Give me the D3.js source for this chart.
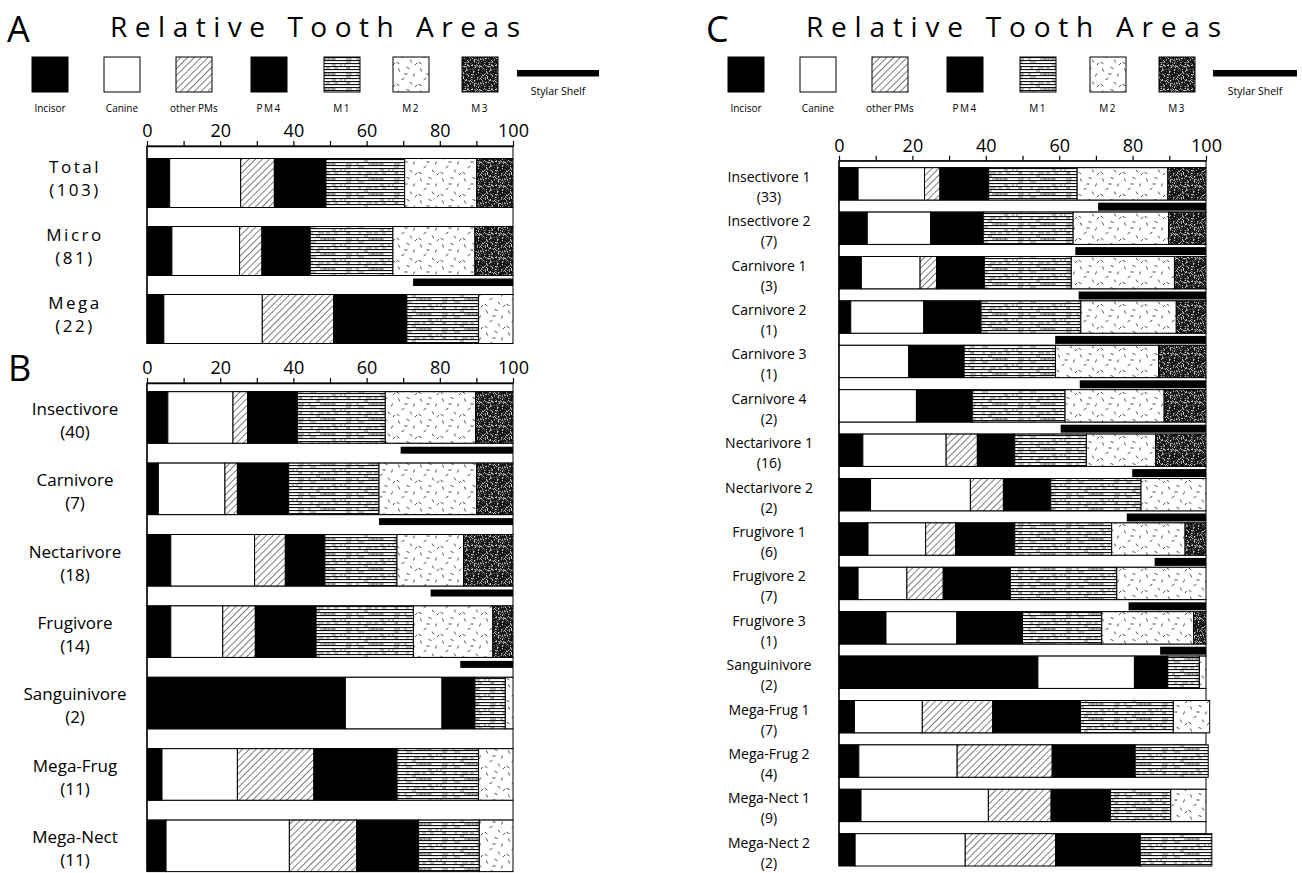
<!DOCTYPE html>
<html>
<head>
<meta charset="utf-8">
<script src="https://cdn.jsdelivr.net/npm/d3@7"></script>
<style>
  body { margin: 0; background: #fff; }
  svg { display: block; }
  text { font-family: "Open Sans", "DejaVu Sans", sans-serif; fill: #000; }
</style>
</head>
<body>
<svg id="chart" width="1302" height="873"></svg>
<script>
// ---- tooth categories (stack order, left to right) ----
const toothTypes = ["Incisor", "Canine", "other PMs", "PM4", "M1", "M2", "M3"];
const axisTicks = [0, 10, 20, 30, 40, 50, 60, 70, 80, 90, 100];

// ---- A: pooled groups (percent of total tooth area) ----
const groupsA = ["Total", "Micro", "Mega"];
const countsA = [103, 81, 22];
const valuesA = [
  [6.2, 19.4, 9.2, 14.1, 21.5, 19.7, 9.9],
  [6.8, 18.5, 6.1, 13.2, 22.6, 22.4, 10.4],
  [4.6, 26.9, 19.5, 20.0, 19.6, 9.4, 0]
];
const shelfA = [0, 27.3, 0];

// ---- B: dietary guilds ----
const groupsB = ["Insectivore", "Carnivore", "Nectarivore", "Frugivore", "Sanguinivore", "Mega-Frug", "Mega-Nect"];
const countsB = [40, 7, 18, 14, 2, 11, 11];
const valuesB = [
  [5.7, 17.8, 4.0, 13.6, 24.0, 24.7, 10.2],
  [3.1, 18.2, 3.4, 14.0, 24.7, 26.7, 9.9],
  [6.5, 22.9, 8.4, 10.8, 19.7, 18.2, 13.5],
  [6.5, 14.2, 8.9, 16.6, 26.6, 21.7, 5.5],
  [54.2, 26.4, 0, 9.0, 8.3, 2.1, 0],
  [4.1, 20.6, 20.9, 22.7, 22.3, 9.4, 0],
  [5.2, 33.7, 18.4, 16.9, 16.6, 9.2, 0]
];
const shelfB = [30.7, 36.6, 22.5, 14.4, 0, 0, 0];

// ---- C: dietary sub-groups ----
const groupsC = ["Insectivore 1", "Insectivore 2", "Carnivore 1", "Carnivore 2", "Carnivore 3", "Carnivore 4",
  "Nectarivore 1", "Nectarivore 2", "Frugivore 1", "Frugivore 2", "Frugivore 3", "Sanguinivore",
  "Mega-Frug 1", "Mega-Frug 2", "Mega-Nect 1", "Mega-Nect 2"];
const countsC = [33, 7, 3, 1, 1, 2, 16, 2, 6, 7, 1, 2, 7, 4, 9, 2];
const valuesC = [
  [5.2, 18.1, 4.2, 13.3, 24.1, 24.7, 10.4],
  [7.7, 17.3, 0, 14.3, 24.5, 26.0, 10.2],
  [6.1, 16.0, 4.5, 13.0, 23.7, 28.1, 8.6],
  [3.2, 19.9, 0, 15.6, 27.2, 26.0, 8.1],
  [0, 19.0, 0, 15.1, 24.9, 28.1, 12.9],
  [0, 21.1, 0, 15.2, 25.3, 27.0, 11.4],
  [6.5, 22.7, 8.5, 10.2, 19.5, 18.9, 13.7],
  [8.6, 27.2, 9.0, 12.9, 24.6, 17.7, 0],
  [7.9, 15.7, 8.2, 16.1, 26.4, 20.0, 5.7],
  [5.2, 13.3, 9.9, 18.3, 29.0, 24.3, 0],
  [12.8, 19.3, 0, 17.9, 21.6, 25.0, 3.4],
  [54.2, 26.3, 0, 9.1, 8.6, 1.8, 0],
  [4.2, 18.5, 19.2, 23.9, 25.3, 9.9, 0],
  [5.4, 26.8, 25.9, 22.6, 19.9, 0, 0],
  [6.0, 34.7, 17.1, 16.2, 16.4, 9.6, 0],
  [4.4, 30.0, 24.6, 23.1, 19.5, 0, 0]
];
const shelfC = [29.4, 35.6, 34.7, 41.1, 34.4, 39.6, 20.1, 21.6, 14.0, 21.1, 12.5, 0, 0, 0, 0, 0];

const svg = d3.select("#chart");
const defs = svg.append("defs");

// deterministic hash in [0,1) used for texture grain
const grain = (a, b) => {
  const s = Math.sin(a * 12.9898 + b * 78.233) * 43758.5453;
  return s - Math.floor(s);
};

// ---- fill textures ----
// diagonal hatching
const hatch = defs.append("pattern").attr("id", "pat-hatch").attr("patternUnits", "userSpaceOnUse")
  .attr("width", 4.8).attr("height", 4.8).attr("patternTransform", "rotate(45)");
hatch.append("rect").attr("width", 4.8).attr("height", 4.8).attr("fill", "#fff");
hatch.append("line").attr("x1", 0.4).attr("y1", 0).attr("x2", 0.4).attr("y2", 4.8)
  .attr("stroke", "#222").attr("stroke-width", 0.65);

// horizontal ruling with slight grain
const ruleW = 48, ruleH = 15;
const rule = defs.append("pattern").attr("id", "pat-rule").attr("patternUnits", "userSpaceOnUse")
  .attr("width", ruleW).attr("height", ruleH);
rule.append("rect").attr("width", ruleW).attr("height", ruleH).attr("fill", "#fff");
for (let r = 0; r < ruleH; r += 3) {
  rule.append("rect").attr("y", r).attr("width", ruleW).attr("height", 1.1).attr("fill", "#111");
}
for (let gx = 0; gx < ruleW; gx += 2) {
  for (let gy = 1; gy < ruleH; gy += 3) {
    if (grain(gx, gy) < 0.18) {
      rule.append("rect").attr("x", gx).attr("y", gy + 0.6).attr("width", 2 + Math.floor(grain(gy, gx) * 5))
        .attr("height", 0.8).attr("fill", "#555");
    }
  }
}

// scattered dashes
const dashTile = 22;
const dash = defs.append("pattern").attr("id", "pat-dash").attr("patternUnits", "userSpaceOnUse")
  .attr("width", dashTile).attr("height", dashTile);
dash.append("rect").attr("width", dashTile).attr("height", dashTile).attr("fill", "#fff");
[[3, 4, 70], [12, 2, 20], [18, 9, 110], [7, 13, 150], [15, 17, 60], [2, 19, 30], [10, 8, 0], [20, 20, 135]]
  .forEach(([cx, cy, a]) => {
    const r = a * Math.PI / 180, l = 1.6;
    dash.append("line")
      .attr("x1", cx - l * Math.cos(r)).attr("y1", cy - l * Math.sin(r))
      .attr("x2", cx + l * Math.cos(r)).attr("y2", cy + l * Math.sin(r))
      .attr("stroke", "#222").attr("stroke-width", 0.8);
  });

// dark stipple
const stTile = 24;
const stip = defs.append("pattern").attr("id", "pat-stipple").attr("patternUnits", "userSpaceOnUse")
  .attr("width", stTile).attr("height", stTile);
stip.append("rect").attr("width", stTile).attr("height", stTile).attr("fill", "#151515");
for (let sx = 0; sx < stTile; sx++) {
  for (let sy = 0; sy < stTile; sy++) {
    const h = grain(sx + 3.1, sy + 7.7);
    if (h < 0.3) {
      stip.append("rect").attr("x", sx).attr("y", sy).attr("width", 1).attr("height", 1)
        .attr("fill", h < 0.1 ? "#c8c8c8" : (h < 0.2 ? "#8a8a8a" : "#555"));
    }
  }
}

const fills = {
  "Incisor": "#000",
  "Canine": "#fff",
  "other PMs": "url(#pat-hatch)",
  "PM4": "#000",
  "M1": "url(#pat-rule)",
  "M2": "url(#pat-dash)",
  "M3": "url(#pat-stipple)"
};

// ---- headers and legends ----
function header(cfg) {
  const g = svg.append("g");
  g.append("text").attr("x", cfg.letterX).attr("y", 42).attr("font-size", 36).text(cfg.letter);
  g.append("text").attr("x", cfg.titleX).attr("y", 37).attr("font-size", 28)
    .attr("textLength", cfg.titleW).attr("lengthAdjust", "spacing")
    .text("Relative Tooth Areas");
  const sw = 36, sh = 35, sy = 57;
  cfg.swatchX.forEach((sx, i) => {
    const key = toothTypes[i];
    g.append("rect").attr("x", sx).attr("y", sy).attr("width", sw).attr("height", sh)
      .attr("fill", fills[key]).attr("stroke", "#000").attr("stroke-width", 1);
    g.append("text").attr("x", sx + sw / 2).attr("y", 112).attr("text-anchor", "middle")
      .attr("font-size", 10).attr("letter-spacing", /^(PM4|M\d)$/.test(key) ? 1.5 : 0)
      .text(key);
  });
  g.append("rect").attr("x", cfg.shelfX).attr("y", 70).attr("width", cfg.shelfW).attr("height", 6.5).attr("fill", "#000");
  g.append("text").attr("x", cfg.shelfX + cfg.shelfW / 2).attr("y", 95).attr("text-anchor", "middle")
    .attr("font-size", 10.5).text("Stylar Shelf");
}

header({ letter: "A", letterX: 7, titleX: 110, titleW: 410,
  swatchX: [32, 104, 176, 251, 324, 393, 462], shelfX: 517, shelfW: 82 });
header({ letter: "C", letterX: 706, titleX: 806, titleW: 415,
  swatchX: [728, 800, 872, 947, 1020, 1090, 1159], shelfX: 1213, shelfW: 84 });

// ---- stacked bar panel ----
function panel(cfg) {
  const g = svg.append("g");
  const x = d3.scaleLinear().domain([0, 100]).range([cfg.x0, cfg.x1]);
  const n = cfg.groups.length;
  const bottom = cfg.top + (n - 1) * cfg.pitch + cfg.barH;
  const y = d3.scaleBand().domain(cfg.groups).range([cfg.top, bottom])
    .paddingInner((cfg.pitch - cfg.barH) / cfg.pitch).paddingOuter(0);

  const rows = cfg.groups.map((name, i) => {
    const o = { name, shelf: cfg.shelf[i] };
    toothTypes.forEach((k, j) => { o[k] = cfg.values[i][j]; });
    return o;
  });

  // outlined gap rows (top strip plus one under each bar but the last)
  const gaps = [{ y0: cfg.axisY, y1: cfg.top }];
  rows.slice(0, -1).forEach(r => gaps.push({ y0: y(r.name) + y.bandwidth(), y1: y(r.name) + cfg.pitch }));
  g.selectAll(".gap").data(gaps).join("rect")
    .attr("x", x(0)).attr("y", d => d.y0).attr("width", x(100) - x(0)).attr("height", d => d.y1 - d.y0)
    .attr("fill", "#fff").attr("stroke", "#000").attr("stroke-width", 1);

  // stylar shelf bars, right-aligned at 100
  g.selectAll(".shelf").data(rows.filter(r => r.shelf > 0)).join("rect")
    .attr("x", d => x(100 - d.shelf)).attr("y", d => y(d.name) + y.bandwidth() + cfg.shelfOff)
    .attr("width", d => x(100) - x(100 - d.shelf)).attr("height", cfg.shelfH).attr("fill", "#000");

  // stacked segments
  const series = d3.stack().keys(toothTypes)(rows);
  g.selectAll(".layer").data(series).join("g")
    .attr("fill", d => fills[d.key])
    .selectAll("rect").data(d => d.filter(s => s[1] - s[0] > 0)).join("rect")
    .attr("x", d => x(d[0])).attr("y", d => y(d.data.name))
    .attr("width", d => x(d[1]) - x(d[0])).attr("height", y.bandwidth())
    .attr("stroke", "#000").attr("stroke-width", 1);

  // group labels
  rows.forEach((r, i) => {
    const t = g.append("text").attr("text-anchor", "middle").attr("font-size", cfg.labelSize)
      .attr("letter-spacing", cfg.labelSpacing);
    t.append("tspan").attr("x", cfg.labelX).attr("y", y(r.name) + cfg.label1).text(r.name);
    t.append("tspan").attr("x", cfg.labelX).attr("y", y(r.name) + cfg.label2).text(`(${cfg.counts[i]})`);
  });

  // axis on top with ticks every 10, labels every 20
  const ax = g.append("g").attr("transform", `translate(0,${cfg.axisY})`)
    .call(d3.axisTop(x).tickValues(axisTicks).tickSizeInner(5).tickSizeOuter(0).tickPadding(4)
      .tickFormat(d => d % 20 === 0 ? d : ""));
  ax.select(".domain").attr("stroke", "#000").attr("stroke-width", 1.3);
  ax.selectAll(".tick line").attr("stroke", "#000").attr("stroke-width", 1.2);
  ax.selectAll(".tick text").attr("font-size", 18).attr("fill", "#000")
    .attr("font-family", "'Open Sans', 'DejaVu Sans', sans-serif");

  g.append("line").attr("x1", x(0)).attr("x2", x(0)).attr("y1", cfg.axisY).attr("y2", bottom)
    .attr("stroke", "#000").attr("stroke-width", 1.3);
}

panel({ groups: groupsA, counts: countsA, values: valuesA, shelf: shelfA,
  x0: 147, x1: 513, axisY: 146, top: 158.5, barH: 49, pitch: 68,
  shelfOff: 3, shelfH: 7.5, labelX: 75, label1: 14, label2: 37, labelSize: 17, labelSpacing: 2.5 });

panel({ groups: groupsB, counts: countsB, values: valuesB, shelf: shelfB,
  x0: 147, x1: 513, axisY: 383, top: 391.7, barH: 51.5, pitch: 71.4,
  shelfOff: 3.5, shelfH: 7, labelX: 75, label1: 23, label2: 46, labelSize: 17, labelSpacing: 0 });

svg.append("text").attr("x", 8).attr("y", 381).attr("font-size", 36).text("B");

panel({ groups: groupsC, counts: countsC, values: valuesC, shelf: shelfC,
  x0: 839, x1: 1206, axisY: 160.7, top: 167.7, barH: 32.3, pitch: 44.4,
  shelfOff: 2.7, shelfH: 8, labelX: 769, label1: 14, label2: 34, labelSize: 14, labelSpacing: 0 });
</script>
</body>
</html>
